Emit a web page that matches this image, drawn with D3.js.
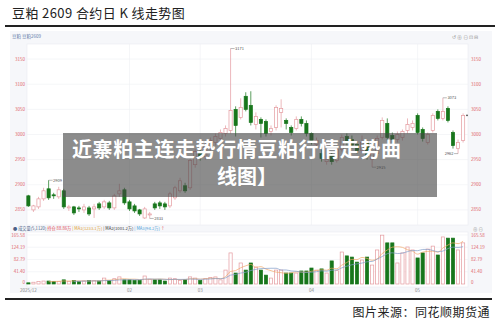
<!DOCTYPE html>
<html>
<head>
<meta charset="utf-8">
<script src="https://cdn.jsdelivr.net/npm/d3@7"></script>
<style>
  body { margin: 0; background: #fff; }
  svg { display: block; }
  text { font-family: "Noto Sans CJK SC", "Noto Sans", sans-serif; }
</style>
</head>
<body>
<svg id="chart" width="500" height="330"></svg>
<script>
// daily K data for soybean meal 2609
const open  = [2878,2850,2856,2872,2892,2880,2876,2888,2854,2856,2854,2850,2854,2852,2862,2856,2864,2854,2882,2890,
               2866,2858,2850,2834,2840,2862,2864,2862,2858,2874,2888,2898,2894,2940,2966,2956,2974,2984,2992,3002,
               3008,3050,3034,3076,3058,3020,3030,3026,3006,3014,3044,3028,3014,3012,3030,3022,3002,2980,2962,2946,
               2960,2948,2970,2996,2990,2980,2968,2982,2950,2962,2994,3022,2998,2990,2994,3008,3014,3038,3010,2984,
               3008,3046,3032,3052,3004,2972,2988];
const high  = [2880,2860,2876,2894,2909,2884,2896,2892,2860,2858,2858,2862,2858,2862,2866,2870,2868,2882,2902,2894,
               2870,2862,2852,2856,2846,2866,2868,2866,2886,2898,2914,2904,2952,2972,2972,2984,2994,3002,3010,3018,
               3171,3056,3072,3084,3086,3044,3034,3030,3018,3058,3070,3032,3018,3036,3036,3028,3004,2994,2972,2958,
               2966,2974,3000,3002,2998,2986,2998,2986,2968,2998,3034,3032,3004,3006,3010,3032,3028,3042,3014,3004,
               3042,3050,3073,3056,3008,2990,3042];
const low   = [2856,2846,2852,2868,2870,2872,2872,2852,2848,2840,2846,2844,2838,2834,2850,2852,2850,2850,2876,2860,
               2848,2844,2838,2832,2833,2850,2852,2850,2854,2870,2884,2884,2890,2934,2948,2950,2968,2978,2986,2996,
               3002,2996,3030,3046,3018,3010,2994,2996,2998,3008,3014,3010,2998,3008,3016,2996,2980,2974,2946,2940,
               2940,2944,2966,2978,2972,2962,2964,2950,2935,2958,2990,2988,2982,2984,2988,3002,3008,3000,2986,2980,
               3004,3028,3028,3024,2972,2962,2984];
const close = [2858,2858,2872,2888,2874,2878,2890,2856,2856,2844,2852,2856,2842,2856,2854,2866,2854,2878,2888,2864,
               2852,2848,2842,2852,2842,2854,2858,2856,2882,2894,2908,2888,2948,2966,2954,2978,2988,2996,3004,3012,
               3048,3018,3054,3050,3024,3036,3022,3002,3012,3054,3052,3022,3004,3030,3022,3002,2988,2988,2952,2950,
               2946,2970,2994,2984,2978,2968,2984,2956,2962,2992,3028,2994,2990,3000,3006,3020,3022,3004,2992,3000,
               3038,3032,3046,3028,2978,2984,3038];
// volume, 万手
const volume = [4,6,8,10,10,9,8,14,9,12,8,10,12,11,10,20,12,18,24,14,
                14,12,12,27,16,14,14,10,20,18,12,14,24,20,12,18,22,24,14,47,
                105,37,71,47,71,57,47,30,20,47,47,37,37,37,44,44,54,47,51,37,
                78,45,108,95,91,74,81,91,64,115,165,139,139,71,105,125,115,88,105,118,
                128,98,159,155,155,115,139];

const priceTicks = [2850,2900,2950,3000,3050,3100,3150];
const volTicks = [0,41.40,82.79,124.19,165.58];
const volTickLabels = ["0","41.40","82.79","124.19","165.58"];
const xTickIdx = [0,20,34,56,77];
const xTickLabels = ["2025/12","02","03","04","05"];
// marked extremes: [index, value, label side]
const marks = [[4,2909,"r"],[24,2833,"r"],[40,3171,"r"],[68,2935,"r"],[82,3073,"r"],[85,2962,"l"]];

const UP = "#e49a9f", DOWN = "#17761b";
const svg = d3.select("#chart");

// header
svg.append("text").attr("x", 12).attr("y", 18).attr("font-size", 13)
  .attr("fill", "#222").attr("letter-spacing", 0.4).text("豆粕 2609 合约日 K 线走势图");
svg.append("rect").attr("x", 5).attr("y", 25).attr("width", 490).attr("height", 2).attr("fill", "#222");

// panel
svg.append("rect").attr("x", 10).attr("y", 31).attr("width", 482).attr("height", 262).attr("fill", "#f6f7fa");
svg.append("text").attr("x", 12).attr("y", 38).attr("font-size", 4.5).attr("fill", "#5a78a8").text("豆粕 豆粕2609");

const P = {left: 27, right: 468, top: 44, bottom: 225};
const V = {top: 232, bottom: 287};

svg.append("rect").attr("x", P.left).attr("y", P.top).attr("width", P.right - P.left)
  .attr("height", P.bottom - P.top).attr("fill", "#fff").attr("stroke", "#e9ecf1").attr("stroke-width", 0.6);
svg.append("rect").attr("x", P.left).attr("y", V.top).attr("width", P.right - P.left)
  .attr("height", V.bottom - V.top).attr("fill", "#fff").attr("stroke", "#e9ecf1").attr("stroke-width", 0.6);

const idx = d3.range(open.length);
const x = d3.scaleBand().domain(idx).range([26.5, 465]).paddingInner(0.25);
const cx = i => x(i) + x.bandwidth() / 2;
const y = d3.scaleLinear().domain([2820, 3180]).range([P.bottom, P.top]);
const yv = d3.scaleLinear().domain([0, 165.58]).range([284, 235]);

// grid
const gGrid = svg.append("g").attr("stroke", "#eef0f4").attr("stroke-width", 0.6);
gGrid.selectAll(".hp").data(priceTicks).join("line")
  .attr("x1", P.left).attr("x2", P.right).attr("y1", d => y(d)).attr("y2", d => y(d));
gGrid.selectAll(".hv").data(volTicks.slice(1)).join("line").attr("class", "hv")
  .attr("x1", P.left).attr("x2", P.right).attr("y1", d => yv(d)).attr("y2", d => yv(d));
gGrid.selectAll(".vx").data(xTickIdx.slice(1)).join("line").attr("class", "vx")
  .attr("x1", d => cx(d)).attr("x2", d => cx(d)).attr("y1", P.top).attr("y2", P.bottom);

// axes labels
const axisP = svg.append("g").attr("font-size", 4.5).attr("fill", "#e0656b");
axisP.selectAll(".l").data(priceTicks).join("text").attr("class", "l")
  .attr("x", 25).attr("y", d => y(d) + 1.5).attr("text-anchor", "end").text(d => d);
axisP.selectAll(".r").data(priceTicks).join("text").attr("class", "r")
  .attr("x", 471).attr("y", d => y(d) + 1.5).text(d => d);
axisP.selectAll(".vl").data(volTicks).join("text").attr("class", "vl")
  .attr("x", 25).attr("y", (d, i) => yv(d) + 1.5 - (i === 0 ? 2 : 0)).attr("text-anchor", "end").text((d, i) => volTickLabels[i]);
axisP.selectAll(".vr").data(volTicks).join("text").attr("class", "vr")
  .attr("x", 471).attr("y", (d, i) => yv(d) + 1.5 - (i === 0 ? 2 : 0)).text((d, i) => volTickLabels[i]);

svg.append("g").attr("font-size", 4.5).attr("fill", "#888")
  .selectAll("text").data(xTickIdx).join("text")
  .attr("x", d => cx(d)).attr("y", 292).attr("text-anchor", "middle").text((d, i) => xTickLabels[i]);

// toolbar glyphs
svg.append("text").attr("x", 452).attr("y", 39).attr("font-size", 5).attr("fill", "#999").text("↺ ⊕ ⊖ ⊡ ⊟");
svg.append("text").attr("x", 473).attr("y", 230.5).attr("font-size", 4.5).attr("fill", "#999").text("⊕ ⊖");

// volume legend
const leg = svg.append("text").attr("x", 13).attr("y", 230).attr("font-size", 4.2);
[["● 成交量(5,1120)  ", "#4a5f86"], ["持仓 88.86万  ", "#e0454d"], ["| MA1(1233.1万)  ", "#e0a030"],
 ["| MA2(1001.2万)  ", "#333"], ["| MA3(94.2万)  ", "#4aa0d8"], ["↑", "#e0454d"]]
  .forEach(([t, c]) => leg.append("tspan").attr("fill", c).text(t));

// candles
const up = i => close[i] >= open[i];
const gC = svg.append("g");
gC.selectAll("line").data(idx).join("line")
  .attr("x1", cx).attr("x2", cx).attr("y1", i => y(high[i])).attr("y2", i => y(low[i]))
  .attr("stroke", i => up(i) ? UP : DOWN).attr("stroke-width", 0.7);
gC.selectAll("rect").data(idx).join("rect")
  .attr("x", i => x(i) + 0.3).attr("width", x.bandwidth() - 0.6)
  .attr("y", i => y(Math.max(open[i], close[i])))
  .attr("height", i => Math.max(0.8, Math.abs(y(open[i]) - y(close[i]))))
  .attr("fill", i => up(i) ? "#fff" : DOWN)
  .attr("stroke", i => up(i) ? UP : DOWN).attr("stroke-width", 0.7);

// extremes labels
const gM = svg.append("g").attr("font-size", 4).attr("fill", "#555");
marks.forEach(([i, v, side]) => {
  const px = cx(i), py = y(v), dx = side === "r" ? 4 : -4;
  gM.append("line").attr("x1", px).attr("x2", px + dx).attr("y1", py).attr("y2", py)
    .attr("stroke", "#777").attr("stroke-width", 0.5);
  gM.append("text").attr("x", px + dx + (side === "r" ? 0.5 : -0.5)).attr("y", py + 1.4)
    .attr("text-anchor", side === "r" ? "start" : "end").text(v);
});
svg.append("circle").attr("cx", 467).attr("cy", y(close[close.length - 1])).attr("r", 0.8).attr("fill", "#333");

// volume bars
const gV = svg.append("g");
gV.selectAll("rect").data(idx).join("rect")
  .attr("x", i => x(i) + 0.3).attr("width", x.bandwidth() - 0.6)
  .attr("y", i => yv(volume[i])).attr("height", i => yv(0) - yv(volume[i]))
  .attr("fill", i => up(i) ? "#fff" : DOWN)
  .attr("stroke", i => up(i) ? UP : DOWN).attr("stroke-width", 0.7);

// moving averages of volume
function ma(n) {
  return idx.map(i => i < n - 1 ? null : d3.mean(volume.slice(i - n + 1, i + 1)));
}
const line = d3.line().defined(d => d != null).x((d, i) => cx(i)).y(d => yv(d)).curve(d3.curveMonotoneX);
svg.append("path").attr("d", line(ma(5))).attr("fill", "none").attr("stroke", "#f0a868").attr("stroke-width", 0.7);
svg.append("path").attr("d", line(ma(10))).attr("fill", "none").attr("stroke", "#7f9cc8").attr("stroke-width", 0.7);

// bottom rule and source
svg.append("rect").attr("x", 5).attr("y", 298).attr("width", 487).attr("height", 2).attr("fill", "#222");
svg.append("text").attr("x", 490).attr("y", 317).attr("text-anchor", "end").attr("font-size", 12)
  .attr("fill", "#222").attr("letter-spacing", 0.5).text("图片来源：同花顺期货通");

// caption overlay
svg.append("rect").attr("x", 63).attr("y", 133).attr("width", 374).attr("height", 64)
  .attr("fill", "rgb(70,70,70)").attr("opacity", 0.62);
svg.append("text").attr("x", 72).attr("y", 157).attr("font-size", 20).attr("font-weight", 700)
  .attr("letter-spacing", 0.6).attr("fill", "#fff").text("近寨粕主连走势行情豆粕行情走势曲");
svg.append("text").attr("x", 217).attr("y", 184).attr("font-size", 20).attr("font-weight", 700)
  .attr("fill", "#fff").text("线图】");
</script>
</body>
</html>
